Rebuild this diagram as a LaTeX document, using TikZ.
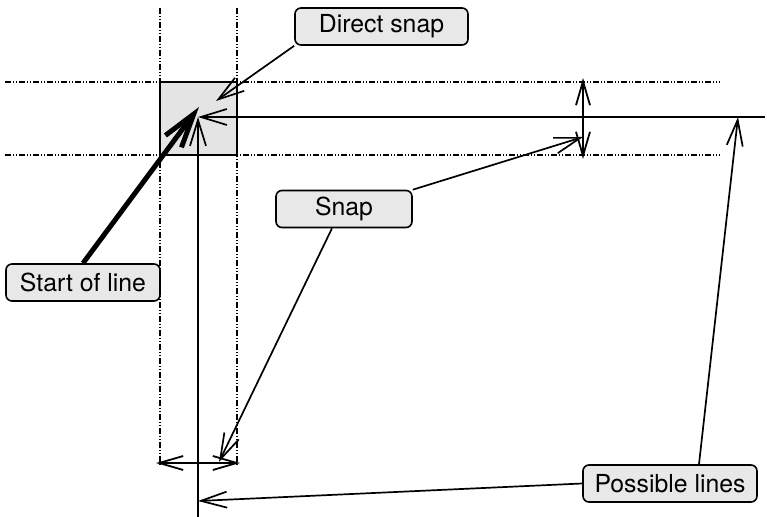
\documentclass[tikz,border=0pt]{standalone}
\usepackage{fontspec}
\setmainfont{TeX Gyre Heros}
\usetikzlibrary{arrows.meta}
\definecolor{boxGray}{RGB}{232,232,232}
\definecolor{snapGray}{RGB}{228,228,228}

\begin{document}
\begin{tikzpicture}[
    x=0.5pt, y=-0.5pt,
    every node/.style={font=\fontsize{12.4}{14}\selectfont},
    label/.style ={rectangle, rounded corners=3pt, draw=black, fill=boxGray, line width=0.8pt, align=center, minimum height=18.5pt, inner sep=0pt},
    guide/.style ={line width=0.6pt, dash pattern=on 3pt off 1pt on 0.5pt off 1pt on 0.5pt off 1pt},
    thin/.style  ={line width=0.8pt},
    arrow/.style ={-{Straight Barb[length=13pt, width=8pt]}, line width=0.85pt},
    bigarrow/.style={-{Straight Barb[length=17pt, width=10pt]}, line width=2.5pt},
    dimarrow/.style={{Straight Barb[length=12pt, width=7pt]}-{Straight Barb[length=12pt, width=7pt]}, line width=0.9pt}
]
\useasboundingbox (0,0) rectangle (767,517);

% snap zone
\fill[snapGray] (160,82) rectangle (237,155);
\draw[thin] (160,82) rectangle (237,155);
\draw[guide] (160,8) -- (160,465);
\draw[guide] (237,8) -- (237,465);
\draw[guide] (5,82) -- (720,82);
\draw[guide] (5,155) -- (720,155);

% points
\coordinate (start) at (199,107);
\coordinate (hit) at (216,101);
\coordinate (corner) at (198,117);
\coordinate (farend) at (765,117);
\coordinate (lowend) at (198,517);
\coordinate (vtop) at (583,78);
\coordinate (vbot) at (583,159);
\coordinate (hleft) at (156,463);
\coordinate (hright) at (240,463);
\coordinate (vsnap) at (583,137);
\coordinate (hsnap) at (219,462);
\coordinate (hline) at (738,117);
\coordinate (vline) at (198,501);

% labels
\node[label, minimum width=86.5pt] (direct) at (381.5,26.5) {Direct snap};
\node[label, minimum width=68pt] (snap) at (344,209) {Snap};
\node[label, minimum width=77pt] (startline) at (83,282.5) {Start of line};
\node[label, minimum width=87pt] (possible) at (670,483.5) {Possible lines};

% possible lines
\draw[arrow] (farend) -- (corner);
\draw[arrow] (lowend) -- (corner);
\draw[dimarrow] (vtop) -- (vbot);
\draw[dimarrow] (hleft) -- (hright);

% connectors
\draw[bigarrow] (startline.north) -- (start);
\draw[arrow] (direct.south west) -- (hit);
\draw[arrow] (snap.north east) -- (vsnap);
\draw[arrow] ([xshift=-6pt]snap.south) -- (hsnap);
\draw[arrow] (possible.west) -- (vline);
\draw[arrow] ([xshift=14.5pt]possible.north) -- (hline);
\end{tikzpicture}
\end{document}
